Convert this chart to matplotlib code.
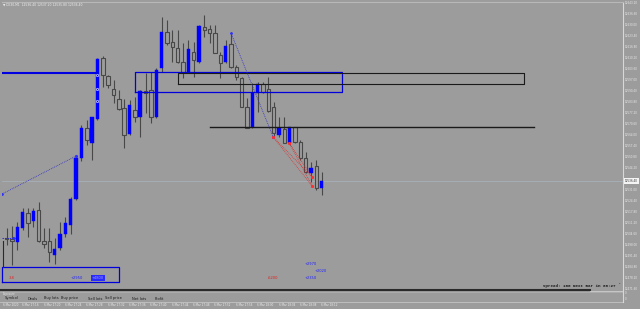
import matplotlib
matplotlib.use('Agg')
import matplotlib.pyplot as plt
from matplotlib.transforms import blended_transform_factory as btf

# ---------------- data ----------------
opens = [12502.2, 12501.6, 12499.8, 12508.2, 12517.2, 12512.4, 12519.0, 12500.4, 12500.4, 12492.0,
         12496.2, 12504.6, 12510.0, 12525.6, 12550.2, 12568.2, 12559.2, 12573.6, 12610.2, 12599.4,
         12591.6, 12585.6, 12580.2, 12564.6, 12579.0, 12574.8, 12590.4, 12591.0, 12574.8, 12604.2,
         12625.8, 12619.8, 12616.2, 12607.8, 12601.8, 12613.8, 12607.8, 12628.8, 12627.6, 12625.2,
         12612.0, 12607.8, 12618.6, 12604.8, 12598.2, 12580.8, 12568.8, 12589.2, 12594.6, 12591.6,
         12580.8, 12564.0, 12567.6, 12559.2, 12568.8, 12559.8, 12550.2, 12541.2, 12545.4, 12532.2]
highs = [12508.2, 12509.4, 12511.8, 12520.2, 12520.2, 12520.2, 12523.8, 12508.2, 12508.2, 12502.2,
         12511.8, 12514.8, 12526.8, 12552.0, 12570.0, 12573.0, 12574.8, 12610.2, 12611.4, 12600.0,
         12597.0, 12591.0, 12585.6, 12585.0, 12586.8, 12591.0, 12601.2, 12601.8, 12604.2, 12634.8,
         12633.0, 12627.0, 12627.0, 12619.2, 12621.0, 12619.8, 12630.0, 12636.0, 12630.0, 12630.0,
         12613.8, 12621.0, 12625.2, 12606.0, 12598.8, 12586.2, 12595.2, 12595.8, 12595.8, 12598.8,
         12583.8, 12574.8, 12574.8, 12568.8, 12568.8, 12561.0, 12553.8, 12547.8, 12549.0, 12541.8]
lows = [12498.0, 12486.0, 12495.0, 12507.0, 12502.8, 12508.8, 12499.8, 12496.2, 12487.8, 12486.6,
        12495.0, 12502.8, 12504.6, 12525.0, 12548.4, 12558.0, 12549.0, 12573.0, 12592.8, 12592.2,
        12583.2, 12579.0, 12556.2, 12564.0, 12571.8, 12562.8, 12577.2, 12571.2, 12574.2, 12601.8,
        12618.0, 12607.8, 12607.2, 12598.2, 12601.2, 12598.8, 12607.2, 12622.8, 12619.2, 12613.2,
        12598.2, 12607.2, 12604.2, 12597.0, 12580.8, 12568.2, 12568.2, 12577.8, 12589.2, 12577.8,
        12562.8, 12562.8, 12559.2, 12558.0, 12559.2, 12549.0, 12541.2, 12535.8, 12531.0, 12528.0]
closes = [12501.6, 12500.4, 12508.8, 12517.8, 12511.2, 12518.4, 12500.4, 12498.6, 12493.8, 12495.6,
          12504.6, 12511.2, 12525.6, 12550.2, 12568.2, 12561.0, 12574.8, 12609.6, 12600.0, 12594.0,
          12588.0, 12579.6, 12564.0, 12582.0, 12574.8, 12590.4, 12589.2, 12574.8, 12603.0, 12625.8,
          12619.2, 12616.8, 12607.8, 12601.8, 12615.6, 12609.0, 12629.4, 12627.0, 12625.2, 12613.2,
          12607.2, 12617.4, 12604.8, 12598.8, 12580.8, 12568.2, 12589.2, 12594.6, 12589.8, 12578.4,
          12565.2, 12568.2, 12559.2, 12568.8, 12559.8, 12550.2, 12541.8, 12544.2, 12532.2, 12536.4]

last_price = 12536.40
price_ticks = [12643.20, 12636.60, 12630.00, 12623.40, 12616.80, 12610.20, 12603.60, 12597.00,
               12590.40, 12583.80, 12577.20, 12570.60, 12564.00, 12557.40, 12550.80, 12544.20,
               12531.00, 12524.40, 12517.80, 12511.20, 12504.60, 12498.00, 12491.40,
               12484.80, 12478.20, 12471.60]
time_idx = [3, 7, 11, 15, 19, 23, 27, 31, 35, 39, 43, 47, 51, 55, 59]
time_labels = ['6 Mar 17:16', '6 Mar 17:20', '6 Mar 17:24', '6 Mar 17:28', '6 Mar 17:32',
               '6 Mar 17:36', '6 Mar 17:40', '6 Mar 17:44', '6 Mar 17:48', '6 Mar 17:52',
               '6 Mar 17:56', '6 Mar 18:00', '6 Mar 18:04', '6 Mar 18:08', '6 Mar 18:12']

# drawn objects (index / price)
blue_level = (12601.2, -1.0, 17.0)
blue_rect = (24.0, 62.8, 12589.8, 12601.8)
black_rect = (32.1, 96.9, 12594.6, 12601.2)
black_level = (12568.8, 38.1, 98.7)
profit_box = (-0.9, 21.0, 12475.8, 12484.8)
profit_texts = [(1.0, 12478.2, '-38', 'red'), (13.2, 12478.2, '+2950', 'blue'),
                (49.9, 12478.2, '-6200', 'red'), (57.0, 12478.2, '+2350', 'blue'),
                (57.0, 12486.6, '+2970', 'blue'), (58.9, 12482.4, '+2020', 'blue')]
hl_text = (17.1, 12478.2, '+4800')
blue_trades = [((-0.88, 13.0), (12528.6, 12551.4)), ((42.0, 49.9), (12625.2, 12562.8))]
red_trades = [((49.9, 57.2), (12562.8, 12538.8)), ((49.9, 57.2), (12562.8, 12533.4)),
              ((52.9, 57.2), (12559.2, 12538.8)), ((52.9, 57.2), (12559.2, 12533.4))]
circle_prices = [12600.0, 12591.6, 12584.4]

BG = '#9c9c9c'
BLUE = '#0000ff'
DARK = '#484848'

W, H = 640, 309
fig = plt.figure(figsize=(6.4, 3.09), dpi=100, facecolor=BG)
ax = fig.add_axes([2 / W, 19 / H, 621 / W, 288 / H])
ax.set_facecolor(BG)
ax.set_xlim(-0.88, 115.41)
ax.set_ylim(12471.0, 12643.8)
ax.set_xticks([])
ax.set_yticks([])
for s in ['left', 'bottom']:
    ax.spines[s].set_visible(False)
ax.spines['top'].set_color('#b8b8b8')
ax.spines['top'].set_linewidth(0.8)
ax.spines['right'].set_color('#d8d8d8')
ax.spines['right'].set_linewidth(0.8)

# current price line
ax.axhline(last_price, color='#a9b0b8', lw=0.6, zorder=1)

# candles
bw = 0.64
for i, (o, h, l, c) in enumerate(zip(opens, highs, lows, closes)):
    ax.vlines(i, l, h, color=DARK, lw=0.8, zorder=2)
    bot = min(o, c)
    ht = max(abs(c - o), 0.4)
    if c > o:
        ax.bar(i, ht, bottom=bot, width=bw, color=BLUE, edgecolor=BLUE, lw=0.3, zorder=3)
    else:
        ax.bar(i, ht, bottom=bot, width=bw, color=BG, edgecolor=DARK, lw=0.8, zorder=3)

# levels and rectangles
ax.plot([blue_level[1], blue_level[2]], [blue_level[0]] * 2, color='#0000e0', lw=1.5, zorder=4)
x0, x1, y0, y1 = blue_rect
ax.plot([x0, x1, x1, x0, x0], [y0, y0, y1, y1, y0], color='#0000dd', lw=0.9, zorder=4)
x0, x1, y0, y1 = black_rect
ax.plot([x0, x1, x1, x0, x0], [y0, y0, y1, y1, y0], color='#1a1a1a', lw=0.8, zorder=4)
ax.plot([black_level[1], black_level[2]], [black_level[0]] * 2, color='#1a1a1a', lw=1.0, zorder=4)
x0, x1, y0, y1 = profit_box
ax.plot([x0, x1, x1, x0, x0], [y0, y0, y1, y1, y0], color='#0000dd', lw=0.9, zorder=4,
        clip_on=False)

# trade lines
for xs, ys in blue_trades:
    ax.plot(xs, ys, color='#3030c8', lw=0.6, ls=(0, (1, 1.2)), zorder=5)
    ax.plot(xs[1], ys[1], marker='.', color='#3030ff', ms=2.5, zorder=6)
    ax.plot(xs[0], ys[0], marker='.', color='#3030ff', ms=2.0, zorder=6)
for xs, ys in red_trades:
    ax.plot(xs, ys, color='#e03030', lw=0.6, ls=(0, (1, 1.2)), zorder=5)
    ax.plot(xs, ys, marker='.', ls='none', color='#ff3030', ms=2.2, zorder=6)
ax.plot([-0.88, 1.3], [opens[0], opens[0]], color='#3030c8', lw=0.7, ls=(0, (1.5, 1)), zorder=5)
ax.plot(1.3, opens[0], marker='>', color='#3030ff', ms=1.5, zorder=6)
ax.plot([-0.75, -0.75], [12484.8, 12500.4], color='#2a2a2a', lw=0.8, zorder=5)
ax.plot([17] * 3, circle_prices, marker='o', ls='none', mfc='none', mec='#dcdcff', ms=1.6,
        mew=0.5, zorder=6)

# profit labels
for x, y, t, col in profit_texts:
    ax.text(x, y, t, color='#e02020' if col == 'red' else '#2020ff', fontsize=2.6,
            ha='center', va='center', zorder=7)
ax.text(hl_text[0], hl_text[1], hl_text[2], color='#a0a0ff', fontsize=2.6, ha='center',
        va='center', zorder=7,
        bbox=dict(boxstyle='square,pad=0.15', fc='#2a2aff', ec='none'))

# right price axis
tr = btf(ax.transAxes, ax.transData)
for p in price_ticks:
    ax.text(1.0035, p, f'{p:.2f}', transform=tr, fontsize=2.0, color='#e8e8e8',
            ha='left', va='center', clip_on=False)
ax.text(1.0035, last_price, f'{last_price:.2f}', transform=tr, fontsize=2.0, color='#303030',
        ha='left', va='center', clip_on=False,
        bbox=dict(boxstyle='square,pad=0.25', fc='#f4f4f4', ec='none'))

# title
fig.text(3 / W, 1 - 4.5 / H, '\u25bc DE30,M1  12536.40 12537.20 12535.80 12536.40',
         fontsize=2.2, color='#f0f0f0', ha='left', va='center')

# spread info
fig.text(543 / W, 1 - 286.5 / H, 'Spread: 100 Next Bar in 00:27', family='Liberation Mono',
         fontsize=3.1, color='#1a1a1a', ha='left', va='center', weight='bold')
fig.text(619 / W, 1 - 283.5 / H, '5', fontsize=1.6, color='#1a1a1a', ha='left', va='center')

# bottom separators / sub window
fig.add_artist(plt.Line2D([0, 590 / W], [1 - 290 / H] * 2, color='#2a2a2a', lw=1.5))
fig.add_artist(plt.Line2D([590 / W, 623 / W], [1 - 290.5 / H] * 2, color='#cfcfcf', lw=0.6))
fig.add_artist(plt.Line2D([0, 623 / W], [1 - 292 / H] * 2, color='#b4b4b4', lw=0.5))
fig.add_artist(plt.Line2D([0, 623 / W], [1 - 301.5 / H] * 2, color='#c4c4c4', lw=0.6))
fig.add_artist(plt.Line2D([623 / W, 623 / W], [1 - 301.5 / H, 1 - 290 / H], color='#d8d8d8', lw=0.8))
fig.text(625 / W, 1 - 293 / H, '0', fontsize=2.0, color='#e8e8e8', va='center')
fig.text(625 / W, 1 - 299.5 / H, '0', fontsize=2.0, color='#e8e8e8', va='center')
fig.text(3 / W, 1 - 293.5 / H, 'Exposure', fontsize=2.0, color='#e0e0e0', va='center')
headers = [('Symbol', 5), ('Deals', 28), ('Buy lots', 44), ('Buy price', 61), ('Sell lots', 88),
           ('Sell price', 105), ('Net lots', 132), ('Profit', 155)]
for t, px in headers:
    fig.text(px / W, 1 - 298.5 / H, t, fontsize=2.6, color='#1c1c1c', va='center')

# time axis
txf = btf(ax.transData, fig.transFigure)
fig.text(3 / W, 1 - 304.5 / H, '6 Mar 2020', fontsize=2.0, color='#ececec', va='center')
for i, t in zip(time_idx, time_labels):
    ax.text(i - 0.1, 1 - 304.5 / H, t, transform=txf, fontsize=2.0, color='#ececec',
            va='center', ha='left', clip_on=False)

fig.savefig('out.png', dpi=100, facecolor=BG)
